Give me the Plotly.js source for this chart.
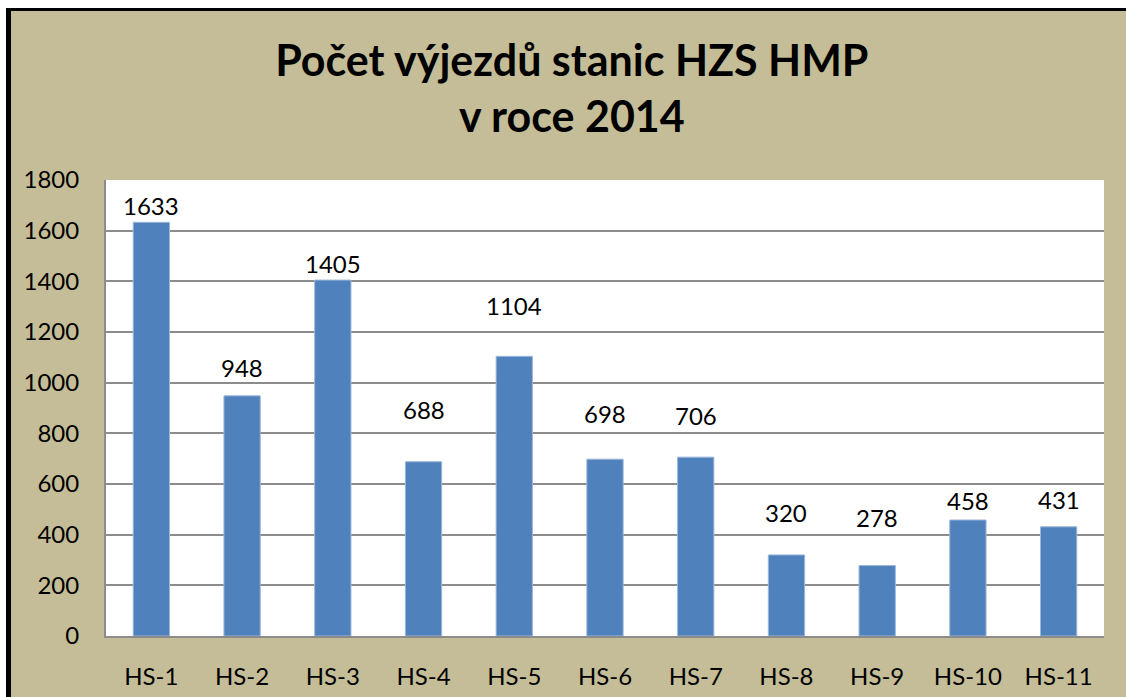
<!DOCTYPE html>
<html>
<head>
<meta charset="utf-8">
<script src="https://cdn.plot.ly/plotly-3.0.1.min.js"></script>
<style>
  html, body { margin: 0; padding: 0; background: #ffffff; width: 1126px; height: 697px; overflow: hidden; }
  #chart { position: absolute; left: 6px; top: 8px; width: 1115px; height: 686px;
           border-left: 5px solid #000; border-top: 3px solid #000; }
</style>
</head>
<body>
<div id="chart"></div>
<script>
const categories = ["HS-1","HS-2","HS-3","HS-4","HS-5","HS-6","HS-7","HS-8","HS-9","HS-10","HS-11"];
const values = [1633, 948, 1405, 688, 1104, 698, 706, 320, 278, 458, 431];
const yTicks = [0, 200, 400, 600, 800, 1000, 1200, 1400, 1600, 1800];
// label placement offsets (px above bar top), style only
const labelShift = [17, 28, 17, 52, 51, 46, 42, 42, 48, 19, 27];

const FONT = "Lato, 'Open Sans', sans-serif";

const trace = {
  type: 'bar',
  x: categories,
  y: values,
  marker: { color: '#4F81BD', line: { color: '#9DB7D9', width: 1 } },
  hoverinfo: 'x+y'
};

const annotations = categories.map((c, i) => ({
  x: c, y: values[i], xref: 'x', yref: 'y',
  text: String(values[i]), showarrow: false,
  yanchor: 'middle', yshift: labelShift[i],
  font: { family: FONT, size: 24, color: '#000' }
}));

const layout = {
  width: 1115, height: 686,
  paper_bgcolor: '#C4BD97',
  plot_bgcolor: '#FFFFFF',
  margin: { l: 95, r: 22, t: 169, b: 61 },
  title: {
    text: 'Počet výjezdů stanic HZS HMP<br>v roce 2014',
    font: { family: FONT, size: 43, color: '#000', weight: 'bold' },
    xref: 'container', x: 0.503, xanchor: 'center',
    yref: 'container', y: 0.905, yanchor: 'top'
  },
  bargap: 0.6,
  showlegend: false,
  xaxis: {
    type: 'category',
    showgrid: false,
    showline: true, linecolor: '#8C8C8C', linewidth: 2,
    ticks: '', ticklabelstandoff: 18,
    tickfont: { family: FONT, size: 24, color: '#000' }
  },
  yaxis: {
    range: [0, 1800],
    tickvals: yTicks,
    ticktext: yTicks.map(String),
    showgrid: true, gridcolor: '#8C8C8C', gridwidth: 2,
    showline: true, linecolor: '#8C8C8C', linewidth: 2,
    zeroline: false,
    ticks: '', ticklabelstandoff: 20,
    tickfont: { family: FONT, size: 24, color: '#000' }
  },
  annotations: annotations
};

Plotly.newPlot('chart', [trace], layout, { displayModeBar: false, staticPlot: true });
</script>
</body>
</html>
